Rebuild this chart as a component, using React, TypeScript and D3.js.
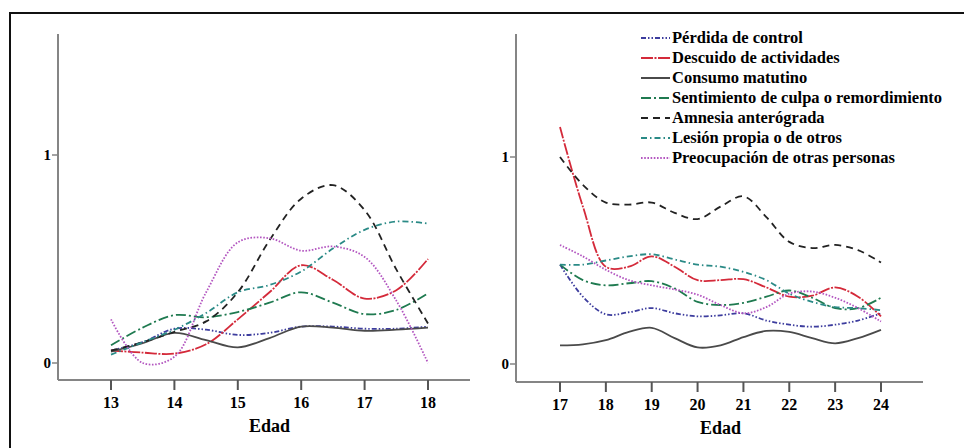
import React from 'react';
import * as d3 from 'd3';

// edades (medio año) y valores
const edadIzq = [13, 13.5, 14, 14.5, 15, 15.5, 16, 16.5, 17, 17.5, 18];
const edadDer = [17, 17.5, 18, 18.5, 19, 19.5, 20, 20.5, 21, 21.5, 22, 22.5, 23, 23.5, 24];

const ticksIzq = [13, 14, 15, 16, 17, 18];
const ticksDer = [17, 18, 19, 20, 21, 22, 23, 24];
const ticksY = [0, 1];

const perdidaIzq = [0.06, 0.1, 0.165, 0.16, 0.135, 0.145, 0.175, 0.175, 0.165, 0.165, 0.175];
const descuidoIzq = [0.06, 0.05, 0.045, 0.09, 0.21, 0.34, 0.47, 0.4, 0.31, 0.35, 0.5];
const consumoIzq = [0.055, 0.095, 0.145, 0.11, 0.075, 0.12, 0.175, 0.17, 0.155, 0.16, 0.17];
const sentimientoIzq = [0.085, 0.17, 0.23, 0.22, 0.245, 0.29, 0.34, 0.29, 0.235, 0.255, 0.335];
const amnesiaIzq = [0.06, 0.1, 0.15, 0.2, 0.34, 0.59, 0.79, 0.855, 0.735, 0.45, 0.19];
const lesionIzq = [0.04, 0.1, 0.16, 0.24, 0.34, 0.375, 0.44, 0.55, 0.64, 0.68, 0.67];
const preocupacionIzq = [0.21, 0.0, 0.03, 0.34, 0.58, 0.6, 0.54, 0.56, 0.51, 0.3, 0.0];

const perdidaDer = [0.48, 0.325, 0.24, 0.25, 0.27, 0.245, 0.23, 0.235, 0.245, 0.21, 0.19, 0.18, 0.19, 0.21, 0.245];
const descuidoDer = [1.145, 0.76, 0.47, 0.47, 0.52, 0.47, 0.405, 0.405, 0.41, 0.37, 0.325, 0.33, 0.37, 0.325, 0.23];
const consumoDer = [0.09, 0.095, 0.115, 0.155, 0.175, 0.125, 0.08, 0.09, 0.13, 0.16, 0.155, 0.125, 0.1, 0.125, 0.165];
const sentimientoDer = [0.48, 0.405, 0.38, 0.39, 0.4, 0.365, 0.3, 0.285, 0.295, 0.325, 0.355, 0.32, 0.27, 0.27, 0.32];
const amnesiaDer = [1.0, 0.865, 0.78, 0.77, 0.78, 0.73, 0.7, 0.76, 0.81, 0.71, 0.59, 0.56, 0.575, 0.55, 0.49];
const lesionDer = [0.48, 0.48, 0.5, 0.52, 0.53, 0.505, 0.48, 0.47, 0.445, 0.405, 0.34, 0.3, 0.275, 0.27, 0.26];
const preocupacionDer = [0.575, 0.52, 0.455, 0.405, 0.38, 0.36, 0.335, 0.285, 0.245, 0.275, 0.34, 0.35, 0.32, 0.27, 0.205];

const nombres = [
  'Pérdida de control',
  'Descuido de actividades',
  'Consumo matutino',
  'Sentimiento de culpa o remordimiento',
  'Amnesia anterógrada',
  'Lesión propia o de otros',
  'Preocupación de otras personas',
];

const estilos = [
  { color: '#3d3d9e', dash: '5,2,1.5,2,1.5,2' },
  { color: '#d42a3a', dash: '12,1.5,2,1.5' },
  { color: '#4a4a4a', dash: 'none' },
  { color: '#1f7a50', dash: '10,3,2,3' },
  { color: '#222222', dash: '7,5' },
  { color: '#2a8a86', dash: '6,3,1.5,3' },
  { color: '#b356c0', dash: '1.6,1.6' },
];

const seriesIzq = [perdidaIzq, descuidoIzq, consumoIzq, sentimientoIzq, amnesiaIzq, lesionIzq, preocupacionIzq];
const seriesDer = [perdidaDer, descuidoDer, consumoDer, sentimientoDer, amnesiaDer, lesionDer, preocupacionDer];

const letra = { fontFamily: "'Liberation Serif', 'DejaVu Serif', serif", fontWeight: 700 };
const gris = '#858585';

function Panel({ edades, series, ticks, x0, x1, ejeX, ejeFin, y0, y1, ejeY }) {
  const x = d3.scaleLinear().domain([ticks[0], ticks[ticks.length - 1]]).range([x0, x1]);
  const y = d3.scaleLinear().domain([0, 1]).range([y0, y1]);
  const linea = d3.line<number>()
    .x((_, i) => x(edades[i]))
    .y(d => y(d))
    .curve(d3.curveCatmullRom.alpha(0.5));
  return (
    <g>
      {series.map((s, k) => (
        <path key={k} d={linea(s) ?? ''} fill="none" stroke={estilos[k].color}
          strokeWidth={1.8} strokeDasharray={estilos[k].dash} />
      ))}
      <line x1={ejeX} x2={ejeX} y1={34} y2={ejeY} stroke={gris} strokeWidth={2} />
      <line x1={ejeX} x2={ejeFin} y1={ejeY} y2={ejeY} stroke={gris} strokeWidth={2} />
      {ticksY.map(t => (
        <g key={t}>
          <line x1={ejeX - 6} x2={ejeX} y1={y(t)} y2={y(t)} stroke={gris} strokeWidth={1.5} />
          <text x={ejeX - 7} y={y(t) + 5} textAnchor="end" style={{ ...letra, fontSize: 15 }}>{t}</text>
        </g>
      ))}
      {ticks.map(t => (
        <g key={t}>
          <line x1={x(t)} x2={x(t)} y1={ejeY} y2={ejeY + 10} stroke="#555" strokeWidth={2} />
          <text x={x(t)} y={ejeY + 28} textAnchor="middle" style={{ ...letra, fontSize: 16 }}>{t}</text>
        </g>
      ))}
      <text x={(x0 + x1) / 2} y={ejeY + 52} textAnchor="middle" style={{ ...letra, fontSize: 18 }}>Edad</text>
    </g>
  );
}

export default function App() {
  return (
    <svg width={964} height={448} style={{ position: 'absolute', left: 0, top: 0, background: '#fff' }}>
      <rect x={0} y={0} width={964} height={448} fill="#fff" />
      <path d="M10,448 V13 H964" fill="none" stroke="#111" strokeWidth={2} />
      <Panel edades={edadIzq} series={seriesIzq} ticks={ticksIzq} x0={111} x1={428}
        ejeX={58} ejeFin={470} y0={363} y1={155} ejeY={380} />
      <Panel edades={edadDer} series={seriesDer} ticks={ticksDer} x0={560} x1={881}
        ejeX={516} ejeFin={923} y0={364} y1={157} ejeY={382} />
      {nombres.map((n, i) => (
        <g key={n} transform={`translate(0,${38 + i * 20})`}>
          <line x1={641} x2={670} y1={0} y2={0} stroke={estilos[i].color} strokeWidth={2}
            strokeDasharray={estilos[i].dash} />
          <text x={672} y={5} style={{ ...letra, fontSize: 16.5 }}>{n}</text>
        </g>
      ))}
    </svg>
  );
}
